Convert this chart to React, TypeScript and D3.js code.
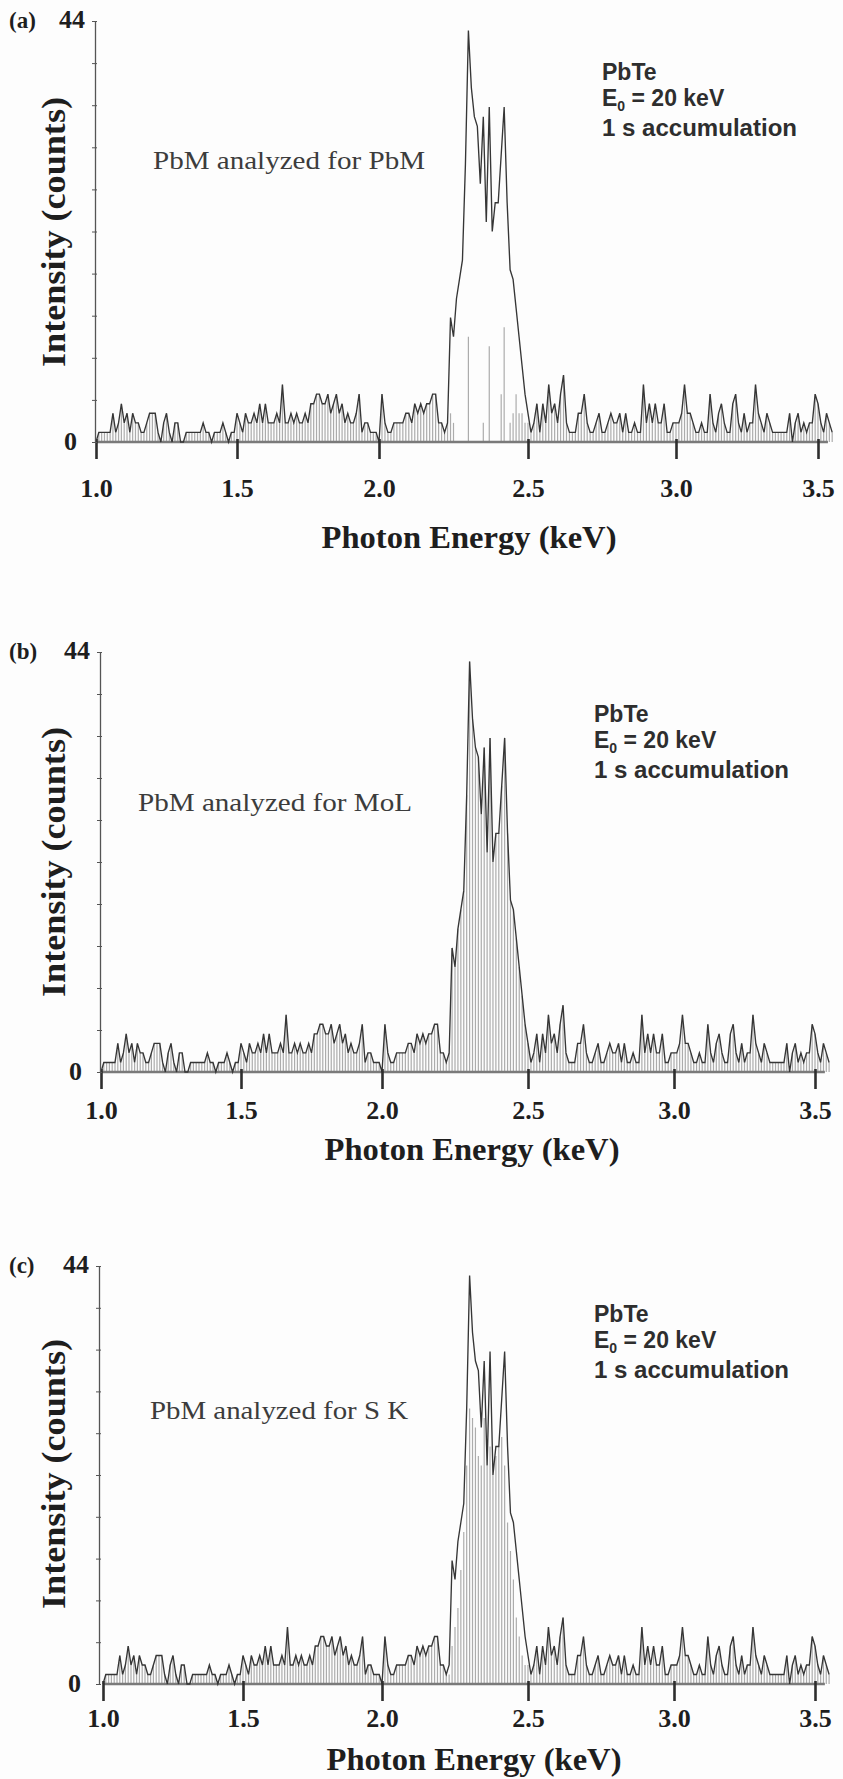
import { useEffect, useRef } from 'react';
import * as d3 from 'd3';

const W = 843;
const H = 1779;

// Pb M spectrum of PbTe, counts per 10 eV channel starting at 1.00 keV
const channelStart = 1.0;
const channelWidth = 0.01;
const spectrum = [
  0, 1, 1, 1, 1, 1, 3, 1, 2, 4,
  2, 3, 1, 3, 2, 2, 1, 1, 2, 3,
  3, 3, 1, 0, 2, 3, 1, 0, 2, 2,
  0, 0, 1, 1, 1, 1, 1, 1, 2, 1,
  1, 0, 1, 1, 1, 2, 1, 0, 1, 1,
  3, 2, 1, 3, 2, 2, 3, 2, 4, 2,
  4, 2, 2, 2, 3, 2, 6, 2, 2, 3,
  2, 3, 2, 2, 3, 2, 4, 4, 5, 5,
  4, 4, 5, 3, 4, 5, 3, 4, 2, 3,
  2, 2, 3, 5, 1, 2, 2, 1, 1, 1,
  0, 5, 2, 1, 1, 2, 2, 2, 2, 3,
  3, 2, 4, 3, 4, 3, 4, 4, 5, 5,
  2, 2, 1, 2, 13, 11, 15, 17, 19, 29,
  43, 37, 34, 33, 27, 34, 23, 35, 22, 25,
  25, 30, 35, 25, 18, 17, 14, 11, 8, 5,
  3, 1, 2, 4, 1, 4, 2, 6, 3, 4,
  2, 5, 7, 2, 1, 1, 1, 3, 3, 5,
  2, 1, 1, 2, 3, 1, 1, 2, 3, 2,
  2, 3, 1, 3, 1, 1, 2, 1, 1, 6,
  2, 4, 2, 4, 2, 2, 4, 1, 1, 2,
  2, 2, 3, 6, 3, 3, 2, 1, 1, 2,
  1, 1, 5, 2, 1, 3, 4, 2, 1, 1,
  4, 5, 2, 1, 3, 1, 2, 2, 6, 3,
  2, 1, 3, 2, 1, 1, 1, 1, 1, 1,
  3, 0, 2, 3, 1, 2, 1, 2, 2, 5,
  4, 2, 1, 3, 2, 1,
];

// grey channel bars in the Pb M window (channels 122..150), per panel
const peakFirst = 122;
const peakBarsA = [1, 2, 3, 2, 0, 0, 0, 0, 11, 0, 0, 0, 0, 2, 0, 10, 0, 0, 0, 5, 12, 0, 2, 3, 5, 3, 3, 2, 2];
const peakBarsC = [1, 1, 4, 6, 8, 12, 16, 23, 29, 28, 27, 24, 23, 28, 23, 25, 22, 24, 25, 26, 23, 17, 14, 11, 7, 5, 3, 2, 2];

const panelLetters = ['(a)', '(b)', '(c)'];
const analyzedFor = ['PbM', 'MoL', 'S K'];
const xTicks = [1.0, 1.5, 2.0, 2.5, 3.0, 3.5];
const xTickLabels = ['1.0', '1.5', '2.0', '2.5', '3.0', '3.5'];
const yMax = 44;
const yTickCount = 10;

// page layout of the three stacked panels
const layouts = [
  { top: 21, base: 442, axisX: 95, ticksX: [96, 237, 379, 528, 676, 818], tickPad: 20, titleX: 469, titleDy: 106, noteX: 153, noteY: 169, noteW: 272, infoX: 602, infoY: 80 },
  { top: 652, base: 1072, axisX: 100, ticksX: [101, 241, 382, 528, 674, 815], tickPad: 12, titleX: 472, titleDy: 88, noteX: 138, noteY: 811, noteW: 274, infoX: 594, infoY: 722 },
  { top: 1266, base: 1684, axisX: 99, ticksX: [103, 243, 382, 528, 674, 815], tickPad: 8, titleX: 474, titleDy: 86, noteX: 150, noteY: 1419, noteW: 258, infoX: 594, infoY: 1322 },
];

const SERIF = '"Liberation Serif", "Times New Roman", serif';
const SANS = '"Liberation Sans", Arial, sans-serif';

function barsFor(panel: number): number[] {
  if (panel === 1) return spectrum;
  const peak = panel === 0 ? peakBarsA : peakBarsC;
  return spectrum.map((v, i) => {
    const k = i - peakFirst;
    return k >= 0 && k < peak.length ? peak[k] : v;
  });
}

export default function App() {
  const svgRef = useRef<SVGSVGElement | null>(null);

  useEffect(() => {
    if (!svgRef.current) return;
    const svg = d3.select(svgRef.current);
    svg.selectAll('*').remove();

    svg.append('rect').attr('width', W).attr('height', H).attr('fill', '#fdfdfd');

    const energy = (i: number) => channelStart + i * channelWidth;

    layouts.forEach((L, p) => {
      const x = d3.scaleLinear().domain(xTicks).range(L.ticksX);
      const y = d3.scaleLinear().domain([0, yMax]).range([L.base, L.top]);
      const g = svg.append('g');

      // channel bars
      const bars = barsFor(p).map((v, i) => ({ e: energy(i), v })).filter(d => d.v > 0);
      g.append('g')
        .selectAll('line')
        .data(bars)
        .enter()
        .append('line')
        .attr('x1', d => x(d.e))
        .attr('x2', d => x(d.e))
        .attr('y1', y(0))
        .attr('y2', d => y(d.v))
        .attr('stroke', '#acacac')
        .attr('stroke-width', 1.2);

      // baseline
      g.append('line')
        .attr('x1', x(1.0))
        .attr('x2', x(3.535))
        .attr('y1', y(0))
        .attr('y2', y(0))
        .attr('stroke', '#7a7a7a')
        .attr('stroke-width', 2.5);

      // spectrum trace
      const line = d3.line<number>()
        .x((_, i) => x(energy(i)))
        .y(d => y(d));
      g.append('path')
        .datum(spectrum)
        .attr('d', line)
        .attr('fill', 'none')
        .attr('stroke', '#363636')
        .attr('stroke-width', 1.35);

      // x axis ticks + labels
      const xAxis = g.append('g')
        .attr('transform', `translate(0,${L.base - 3})`)
        .call(
          d3.axisBottom(x)
            .tickValues(xTicks)
            .tickFormat((_, i) => xTickLabels[i])
            .tickSizeInner(20)
            .tickSizeOuter(0)
            .tickPadding(L.tickPad)
        );
      xAxis.select('.domain').remove();
      xAxis.selectAll('.tick line').attr('stroke', '#2e2e2e').attr('stroke-width', 2.6);
      xAxis.selectAll('.tick text')
        .attr('fill', '#1e1e1e')
        .style('font-family', SERIF)
        .style('font-weight', 'bold')
        .style('font-size', '26px');

      // y axis
      const yAxis = g.append('g')
        .attr('transform', `translate(${L.axisX},0)`)
        .call(
          d3.axisLeft(y)
            .tickValues(d3.range(0, yTickCount + 1).map(k => (k * yMax) / yTickCount))
            .tickFormat(() => '')
            .tickSizeInner(3)
            .tickSizeOuter(0)
        );
      yAxis.select('.domain').attr('stroke', '#555').attr('stroke-width', 1.3);
      yAxis.selectAll('.tick line').attr('x2', 2).attr('x1', -3).attr('stroke', '#555');

      const bold = (sel: any, size: number) =>
        sel.style('font-family', SERIF).style('font-weight', 'bold').style('font-size', `${size}px`).attr('fill', '#1e1e1e');

      bold(g.append('text').attr('x', L.axisX - 10).attr('y', y(yMax) + 7).attr('text-anchor', 'end').text(String(yMax)), 26);
      bold(g.append('text').attr('x', L.axisX - 18).attr('y', y(0) + 8).attr('text-anchor', 'end').text('0'), 26);
      bold(g.append('text').attr('x', 9).attr('y', y(yMax) + 7).text(panelLetters[p]), 23);

      // axis titles
      bold(
        g.append('text')
          .attr('x', L.titleX)
          .attr('y', L.base + L.titleDy)
          .attr('text-anchor', 'middle')
          .attr('textLength', 295)
          .attr('lengthAdjust', 'spacingAndGlyphs')
          .text('Photon Energy (keV)'),
        31
      );
      bold(
        g.append('text')
          .attr('transform', `translate(65,${L.base - 210}) rotate(-90)`)
          .attr('text-anchor', 'middle')
          .attr('textLength', 270)
          .attr('lengthAdjust', 'spacingAndGlyphs')
          .text('Intensity (counts)'),
        33
      );

      // annotations
      g.append('text')
        .attr('x', L.noteX)
        .attr('y', L.noteY)
        .attr('textLength', L.noteW)
        .attr('lengthAdjust', 'spacingAndGlyphs')
        .style('font-family', SERIF)
        .style('font-size', '25px')
        .attr('fill', '#3c3c3c')
        .text(`PbM analyzed for ${analyzedFor[p]}`);

      const info = g.append('g')
        .style('font-family', SANS)
        .style('font-weight', 'bold')
        .style('font-size', '23px')
        .attr('fill', '#2e2e2e');
      info.append('text').attr('x', L.infoX).attr('y', L.infoY).text('PbTe');
      const e0 = info.append('text').attr('x', L.infoX).attr('y', L.infoY + 26);
      e0.append('tspan').text('E');
      e0.append('tspan').attr('dy', 5).style('font-size', '14px').text('0');
      e0.append('tspan').attr('dy', -5).text(' = 20 keV');
      info.append('text')
        .attr('x', L.infoX)
        .attr('y', L.infoY + 56)
        .attr('textLength', 195)
        .attr('lengthAdjust', 'spacingAndGlyphs')
        .text('1 s accumulation');
    });
  }, []);

  return (
    <div style={{ position: 'absolute', left: 0, top: 0 }}>
      <svg ref={svgRef} width={W} height={H} />
    </div>
  );
}
